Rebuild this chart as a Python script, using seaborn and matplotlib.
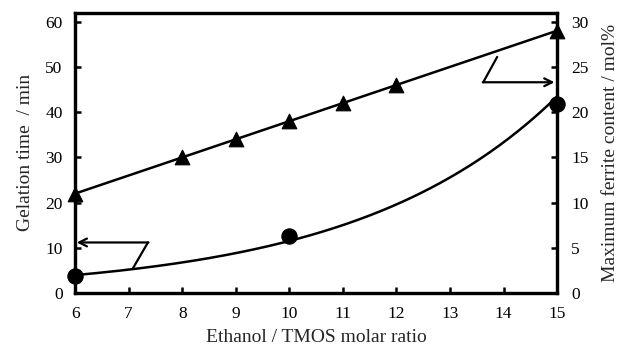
import numpy as np
import pandas as pd
import matplotlib
matplotlib.use("Agg")
import matplotlib.pyplot as plt
import seaborn as sns

# Gelation time (left axis)
gel_ratio = [6, 10, 15]
gel_time = [3.8, 12.6, 41.8]

# Maximum ferrite content (right axis)
fer_ratio = [6, 8, 9, 10, 11, 12, 15]
fer_content = [11, 15, 17, 19, 21, 23, 29]

sns.set_theme(style="white")
plt.rcParams["font.family"] = ["Liberation Serif", "DejaVu Serif"]

fig = plt.figure(figsize=(6.31, 3.49), dpi=100)
ax = fig.add_axes([0.119, 0.160, 0.764, 0.804])
ax2 = ax.twinx()

# exponential trend for gelation time, linear trend for ferrite content
xs = np.linspace(6, 15, 200)
b, a = np.polyfit(gel_ratio, np.log(gel_time), 1)
gel_fit = pd.DataFrame({"x": xs, "y": np.exp(a + b * xs)})
m, c = np.polyfit(fer_ratio, fer_content, 1)
fer_fit = pd.DataFrame({"x": xs, "y": m * xs + c})

sns.lineplot(data=gel_fit, x="x", y="y", ax=ax, color="black", lw=1.8)
sns.scatterplot(x=gel_ratio, y=gel_time, ax=ax, marker="o", s=120,
                color="black", edgecolor="black", zorder=5, clip_on=False)

sns.lineplot(data=fer_fit, x="x", y="y", ax=ax2, color="black", lw=1.8)
sns.scatterplot(x=fer_ratio, y=fer_content, ax=ax2, marker="^", s=110,
                color="black", edgecolor="black", zorder=5, clip_on=False)

ax.set_xlim(6, 15)
ax.set_ylim(0, 62)
ax2.set_ylim(0, 31)
ax.set_xticks(range(6, 16))
ax.set_yticks(range(0, 61, 10))
ax2.set_yticks(range(0, 31, 5))

for a_ in (ax, ax2):
    for s in a_.spines.values():
        s.set_linewidth(2.3)
        s.set_color("black")
ax.tick_params(axis="both", direction="in", length=4, width=1.8,
               labelsize=12.5, colors="black", pad=9)
ax.tick_params(axis="x", pad=9)
ax2.tick_params(axis="y", direction="in", length=4, width=1.8,
                labelsize=12.5, colors="black", pad=10)
ax.tick_params(left=True, bottom=True)
ax2.tick_params(right=True)

ax.set_xlabel("Ethanol / TMOS molar ratio", fontsize=14, labelpad=5)
ax.set_ylabel("Gelation time  / min", fontsize=14, labelpad=8)
ax2.set_ylabel("Maximum ferrite content / mol%", fontsize=14, labelpad=10)

# arrows pointing each curve to its axis
ax.plot([7.08, 7.36], [5.5, 11.2], color="black", lw=1.6)
ax.annotate("", xy=(6.03, 11.2), xytext=(7.37, 11.2),
            arrowprops=dict(arrowstyle="->", color="black", lw=1.6,
                            mutation_scale=14, shrinkA=0, shrinkB=0))
ax2.plot([13.88, 13.62], [26.1, 23.3], color="black", lw=1.6)
ax2.annotate("", xy=(14.95, 23.3), xytext=(13.61, 23.3),
             arrowprops=dict(arrowstyle="->", color="black", lw=1.6,
                             mutation_scale=14, shrinkA=0, shrinkB=0))

fig.savefig("out.png", dpi=100)
